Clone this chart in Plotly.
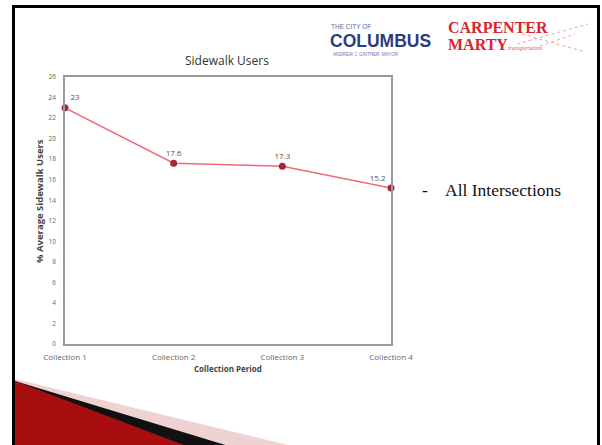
import plotly.graph_objects as go

# Chart data
periods = ["Collection 1", "Collection 2", "Collection 3", "Collection 4"]
sidewalk_pct = [23, 17.6, 17.3, 15.2]
y_ticks = list(range(0, 27, 2))
label_pos = ["top right", "top center", "top center", "top left"]

W, H = 602, 445
L, R, T, B = 65, 391, 77, 344  # plot area in pixels


def px(x):
    return (x - L) / (R - L)


def py(y):
    return (B - y) / (B - T)


def path(points):
    return "M " + " L ".join(f"{px(x):.4f},{py(y):.4f}" for x, y in points) + " Z"


def note(text, x, y, size, color, family="Open Sans", xanchor="center", angle=0):
    return dict(text=text, x=px(x), y=py(y), xref="paper", yref="paper",
                xanchor=xanchor, yanchor="middle", align="left", showarrow=False,
                borderpad=0, textangle=angle,
                font=dict(family=family, size=size, color=color))


fig = go.Figure()
fig.add_trace(go.Scatter(
    x=periods, y=sidewalk_pct,
    mode="lines+markers+text",
    text=[str(v) for v in sidewalk_pct],
    textposition=label_pos,
    textfont=dict(family="Open Sans", size=8, color="#555555"),
    line=dict(color="#f06a74", width=1.5),
    marker=dict(color="#9e2a3a", size=7),
    cliponaxis=False,
    showlegend=False,
))

shapes = [
    # slide frame
    dict(type="rect", xref="paper", yref="paper",
         x0=px(13.5), y0=py(6.5), x1=px(598.5), y1=py(470),
         line=dict(color="black", width=3), layer="below"),
    # bottom swoosh: pink, black, red
    dict(type="path", xref="paper", yref="paper",
         path=path([(15, 379), (296, 447), (15, 447)]),
         fillcolor="#efd3d3", line=dict(width=0), layer="below"),
    dict(type="path", xref="paper", yref="paper",
         path=path([(15, 381), (232, 447), (15, 447)]),
         fillcolor="#111111", line=dict(width=0), layer="below"),
    dict(type="path", xref="paper", yref="paper",
         path=path([(15, 381), (189, 447), (15, 447)]),
         fillcolor="#a80e10", line=dict(width=0), layer="below"),
]

# decorative dotted strokes beside the Carpenter Marty mark
for (x0, y0, x1, y1) in [(517, 44, 588, 24), (522, 34, 585, 52), (540, 46, 575, 34)]:
    shapes.append(dict(type="line", xref="paper", yref="paper",
                       x0=px(x0), y0=py(y0), x1=px(x1), y1=py(y1),
                       line=dict(color="#f0a0a8", width=1, dash="dot")))

annotations = [
    note("Sidewalk Users", 227, 60, 12, "#333333"),
    note("<b>Collection Period</b>", 228, 368, 8, "#444444"),
    note("<b>% Average Sidewalk Users</b>", 39, 201, 9.5, "#444444", angle=-90),
    note("-", 425, 190, 17.5, "#111111", family="Liberation Serif"),
    note("All Intersections", 444, 190, 17.5, "#111111", family="Liberation Serif", xanchor="left"),
    # City of Columbus mark
    note("THE CITY OF", 330, 26.5, 6.5, "#5a6aa8", family="Liberation Sans", xanchor="left"),
    note("<b>COLUMBUS</b>", 329, 41, 17.5, "#2c3b7c", family="Liberation Sans", xanchor="left"),
    note("ANDREW J. GINTHER, MAYOR", 332, 54.5, 4.5, "#6a78b0", family="Liberation Sans", xanchor="left"),
    # Carpenter Marty mark
    note("<b>CARPENTER</b>", 447, 27, 16, "#d8252e", family="Liberation Serif", xanchor="left"),
    note("<b>MARTY</b><i><span style='font-size:6px;color:#e05560'>transportation</span></i>",
         447, 45, 16, "#d8252e", family="Liberation Serif", xanchor="left"),
]

fig.update_layout(
    width=W, height=H,
    margin=dict(l=L, r=W - R, t=T, b=H - B, pad=0),
    paper_bgcolor="white", plot_bgcolor="white",
    shapes=shapes, annotations=annotations,
    xaxis=dict(
        range=[0, 3], showgrid=False, zeroline=False,
        showline=True, mirror=True, linecolor="#9a9a9a", linewidth=1.5,
        ticks="", ticklabelstandoff=5,
        tickfont=dict(family="Open Sans", size=8, color="#666666"),
        fixedrange=True,
    ),
    yaxis=dict(
        range=[0, 26], tickvals=y_ticks, showgrid=False, zeroline=False,
        showline=True, mirror=True, linecolor="#9a9a9a", linewidth=1.5,
        ticks="", ticklabelstandoff=6,
        tickfont=dict(family="Open Sans", size=6.5, color="#666666"),
        fixedrange=True,
    ),
)

fig.write_html("out.html", config={"displayModeBar": False})
